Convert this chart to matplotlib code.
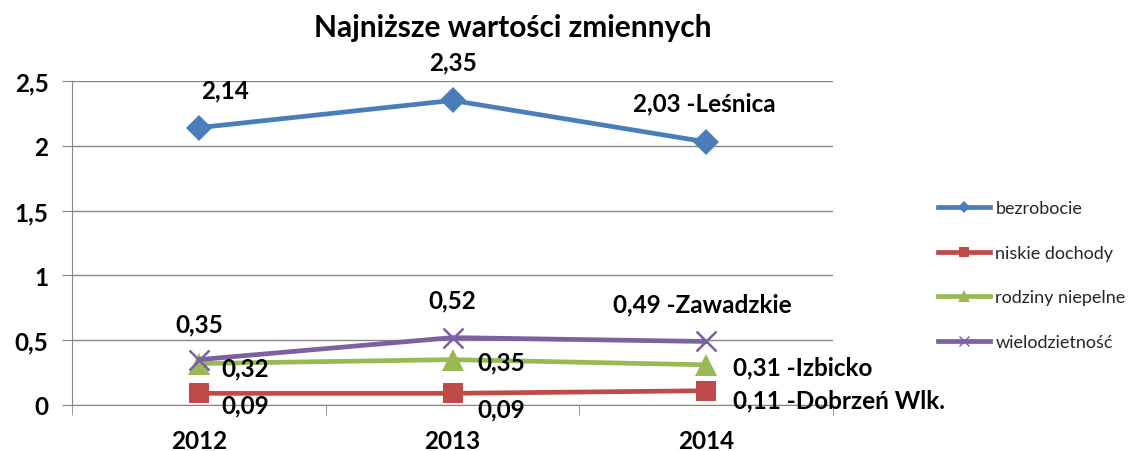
import matplotlib
matplotlib.use('Agg')
import matplotlib.pyplot as plt
from matplotlib.ticker import FuncFormatter, MultipleLocator
from matplotlib.lines import Line2D

plt.rcParams['font.family'] = ['Lato', 'DejaVu Sans']

# ── dane ──────────────────────────────────────────────────────
years = ['2012', '2013', '2014']
bezrobocie = [2.14, 2.35, 2.03]
niskie_dochody = [0.09, 0.09, 0.11]
rodziny_niepelne = [0.32, 0.35, 0.31]
wielodzietnosc = [0.35, 0.52, 0.49]
series_names = ['bezrobocie', 'niskie dochody', 'rodziny niepelne', 'wielodzietność']
last_suffix = ['Leśnica', 'Dobrzeń Wlk.', 'Izbicko', 'Zawadzkie']

# ── styl ──────────────────────────────────────────────────────
colors = ['#4A7EBB', '#BE4B48', '#98B954', '#7D60A0']
markers = ['D', 's', '^', 'x']
msizes = [13, 14, 16, 15]
# przesunięcia etykiet (piksele) dla każdego punktu: (dx, dy, ha)
offsets = [
    [(26, 38, 'center'), (0, 39, 'center'), (-73, 39, 'left')],
    [(23, -12, 'left'), (25, -16, 'left'), (27, -9, 'left')],
    [(23, -4, 'left'), (25, -2, 'left'), (27, -2, 'left')],
    [(0, 36, 'center'), (0, 38, 'center'), (-93, 38, 'left')],
]
LBL = 17.5

fig = plt.figure(figsize=(11.45, 4.52), dpi=100)
ax = fig.add_axes([0.0629, 0.1018, 0.6646, 0.7168])

x = list(range(len(years)))
all_series = [bezrobocie, niskie_dochody, rodziny_niepelne, wielodzietnosc]

for i, vals in enumerate(all_series):
    mew = 1.8 if markers[i] == 'x' else 0
    ax.plot(x, vals, color=colors[i], lw=3.4, marker=markers[i], ms=msizes[i],
            mew=mew, mec=colors[i], zorder=3 + i, solid_capstyle='round')
    for j, v in enumerate(vals):
        txt = f'{v:.2f}'.replace('.', ',')
        if j == len(vals) - 1:
            txt += ' -' + last_suffix[i]
        dx, dy, ha = offsets[i][j]
        ax.annotate(txt, (j, v), xytext=(dx, dy), textcoords='offset pixels',
                    ha=ha, va='center', fontsize=LBL, fontweight='bold',
                    color='black', zorder=10)

ax.set_xlim(-0.5, 2.5)
ax.set_ylim(0, 2.5)
ax.yaxis.set_major_locator(MultipleLocator(0.5))
ax.yaxis.set_major_formatter(FuncFormatter(lambda v, p: f'{v:g}'.replace('.', ',')))
ax.set_xticks(x)
ax.set_xticklabels(years)
ax.set_xticks([-0.5, 0.5, 1.5, 2.5], minor=True)
ax.tick_params(axis='x', which='major', length=0, pad=17, labelsize=LBL)
ax.tick_params(axis='x', which='minor', length=7, color='#868686', direction='out')
ax.tick_params(axis='y', length=7, color='#868686', pad=10, labelsize=LBL)
for lab in ax.get_xticklabels() + ax.get_yticklabels():
    lab.set_fontweight('bold')

ax.grid(axis='y', color='#868686', lw=1)
ax.set_axisbelow(True)
for s in ['top', 'right']:
    ax.spines[s].set_visible(False)
ax.spines['left'].set_color('#868686')
ax.spines['bottom'].set_color('#868686')

fig.text(0.448, 0.937, 'Najniższe wartości zmiennych', ha='center', va='center',
         fontsize=21.5, fontweight='bold')

handles = [Line2D([], [], color=colors[i], lw=3.4, marker=markers[i], ms=msizes[i] * 0.5,
                  mew=1.0 if markers[i] == 'x' else 0, mec=colors[i])
           for i in range(4)]
fig.legend(handles, series_names, loc='center left', bbox_to_anchor=(0.805, 0.389),
           frameon=False, fontsize=13, handlelength=2.9, handletextpad=0.28,
           labelspacing=1.58, labelcolor='#262626')

fig.savefig('out.png', dpi=100)
